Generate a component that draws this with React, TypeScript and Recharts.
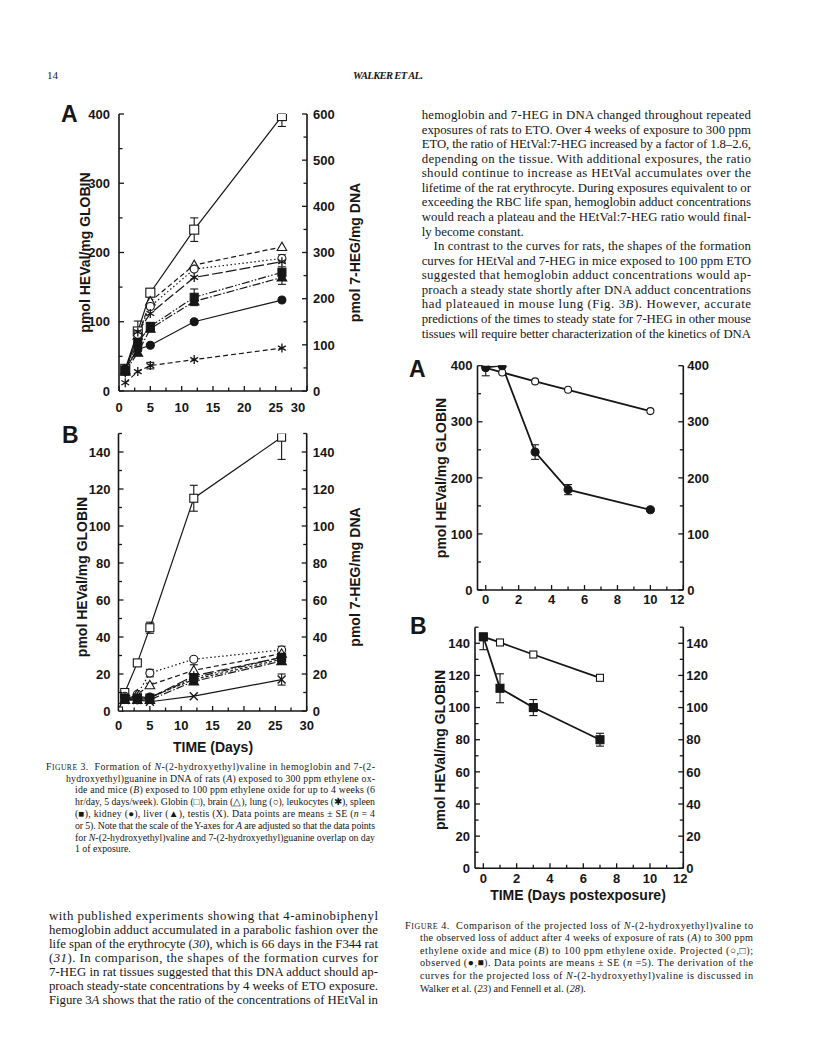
import React from 'react';
import { LineChart, Line, XAxis, YAxis, ErrorBar } from 'recharts';

const INK = '#161616';
const SANS = '"Liberation Sans", Arial, Helvetica, sans-serif';
const SERIF = '"Liberation Serif", "Times New Roman", serif';

// ---------- Figure 3A: rats, 300 ppm ETO ----------
const ratDays = [1, 3, 5, 12, 26];
const ratGlobin = [32, 86, 142, 233, 397]; // pmol HEVal/mg globin (left axis)
const ratGlobinErr = [2, 15, 6, 17, [15, 3]];
// pmol 7-HEG/mg DNA (right axis)
const ratBrain = [45, 120, 194, 273, 312];
const ratLung = [42, 123, 183, 264, 287];
const ratLungErr = [null, null, null, null, 8];
const ratLeuko = [39, 128, 168, 246, 280];
const ratSpleen = [45, 105, 140, 203, 257];
const ratSpleenErr = [null, null, 8, 18, 12];
const ratLiver = [42, 83, 135, 194, 246];
const ratLiverErr = [null, null, null, null, 15];
const ratKidney = [48, 90, 99, 150, 197];
const ratTestis = [18, 42, 55, 68, 93];
const ratTestisErr = [null, null, 7, null, null];

// ---------- Figure 3B: mice, 100 ppm ETO ----------
const mouseGlobinDays = [0, 1, 3, 5, 12, 26];
const mouseGlobin = [0, 10, 26, 45, 115, 148];
const mouseGlobinErr = [null, 1.5, 1.5, 3, 7, [12, 1]];
const mouseDays = [1, 3, 5, 12, 26];
const mouseLung = [8, 9, 20.5, 28, 33];
const mouseLungErr = [null, null, 2, 1, 2];
const mouseBrain = [6, 9, 14, 22, 31];
const mouseBrainErr = [null, null, 1, 3, 2];
const mouseLeuko = [7, 8, 7, 19, 29];
const mouseSpleen = [7, 7, 7, 18, 29];
const mouseSpleenErr = [null, null, null, null, 2];
const mouseKidney = [7, 6, 7.5, 17, 28];
const mouseLiver = [6, 6, 6, 16, 27];
const mouseTestis = [6, 6, 5, 8, 17];
const mouseTestisErr = [null, null, null, null, 3];

// ---------- Figure 4A: rats, postexposure ----------
const ratPostDays = [0, 1, 3, 5, 10];
const ratProjected = [396, 388, 372, 357, 319];
const ratObserved = [397, 400, 246, 179, 143];
const ratObservedErr = [[15, 0], [13, 0], 13, 9, 3];

// ---------- Figure 4B: mice, postexposure ----------
const mousePostDays = [0, 1, 3, 7];
const mouseProjected = [144, 140.5, 133, 118.5];
const mouseObserved = [144, 112, 100, 80];
const mouseObservedErr = [[8, 0], 9, 5, 4];

// tick sets
const X30 = [0, 2.5, 5, 7.5, 10, 12.5, 15, 17.5, 20, 22.5, 25, 27.5, 30];
const X12 = [0, 1, 2, 3, 4, 5, 6, 7, 8, 9, 10, 11, 12];
const Y400 = [0, 50, 100, 150, 200, 250, 300, 350, 400];
const Y600 = [0, 50, 100, 150, 200, 250, 300, 350, 400, 450, 500, 550, 600];
const Y150 = [0, 10, 20, 30, 40, 50, 60, 70, 80, 90, 100, 110, 120, 130, 140, 150];

// page text
const RIGHT_COL = [
  'hemoglobin and 7-HEG in DNA changed throughout repeated',
  'exposures of rats to ETO. Over 4 weeks of exposure to 300 ppm',
  'ETO, the ratio of HEtVal:7-HEG increased by a factor of 1.8–2.6,',
  'depending on the tissue. With additional exposures, the ratio',
  'should continue to increase as HEtVal accumulates over the',
  'lifetime of the rat erythrocyte. During exposures equivalent to or',
  'exceeding the RBC life span, hemoglobin adduct concentrations',
  'would reach a plateau and the HEtVal:7-HEG ratio would final-',
  'ly become constant.',
  'In contrast to the curves for rats, the shapes of the formation',
  'curves for HEtVal and 7-HEG in mice exposed to 100 ppm ETO',
  'suggested that hemoglobin adduct concentrations would ap-',
  'proach a steady state shortly after DNA adduct concentrations',
  'had plateaued in mouse lung (Fig. 3_B_). However, accurate',
  'predictions of the times to steady state for 7-HEG in other mouse',
  'tissues will require better characterization of the kinetics of DNA',
];
const LEFT_COL = [
  'with published experiments showing that 4-aminobiphenyl',
  'hemoglobin adduct accumulated in a parabolic fashion over the',
  'life span of the erythrocyte (_30_), which is 66 days in the F344 rat',
  '(_31_). In comparison, the shapes of the formation curves for',
  '7-HEG in rat tissues suggested that this DNA adduct should ap-',
  'proach steady-state concentrations by 4 weeks of ETO exposure.',
  'Figure 3_A_ shows that the ratio of the concentrations of HEtVal in',
];
const FIG3_CAPTION = [
  'FIGURE 3.  Formation of _N_-(2-hydroxyethyl)valine in hemoglobin and 7-(2-',
  'hydroxyethyl)guanine in DNA of rats (_A_) exposed to 300 ppm ethylene ox-',
  'ide and mice (_B_) exposed to 100 ppm ethylene oxide for up to 4 weeks (6',
  'hr/day, 5 days/week). Globin (□), brain (△), lung (○), leukocytes (✱), spleen',
  '(■), kidney (●), liver (▲), testis (X). Data points are means ± SE (_n_ = 4',
  'or 5). Note that the scale of the Y-axes for _A_ are adjusted so that the data points',
  'for _N_-(2-hydroxyethyl)valine and 7-(2-hydroxyethyl)guanine overlap on day',
  '1 of exposure.',
];
const FIG4_CAPTION = [
  'FIGURE 4.  Comparison of the projected loss of _N_-(2-hydroxyethyl)valine to',
  'the observed loss of adduct after 4 weeks of exposure of rats (_A_) to 300 ppm',
  'ethylene oxide and mice (_B_) to 100 ppm ethylene oxide. Projected (○,□);',
  'observed (●,■). Data points are means ± SE (_n_ =5). The derivation of the',
  'curves for the projected loss of _N_-(2-hydroxyethyl)valine is discussed in',
  'Walker et al. (_23_) and Fennell et al. (_28_).',
];

const pts = (days: number[], vals: number[], errs?: any[]) =>
  days.map((d, i) => ({ d, v: vals[i], err: errs && errs[i] != null ? errs[i] : undefined }));

const axisLine = { stroke: INK, strokeWidth: 1.6 };
const tickFont = { fontFamily: SANS, fontWeight: 700, fontSize: 13, fill: INK };

const isMajor = (v: number, step: number) => Math.abs(v / step - Math.round(v / step)) < 1e-6;

function yTick(side: 'left' | 'right', step: number, gap: number) {
  return (p: any) => {
    const v = Number(p.payload.value);
    const major = isMajor(v, step);
    const dir = side === 'left' ? 1 : -1;
    const len = major ? 5 : 3.5;
    return (
      <g>
        <line x1={p.x} x2={p.x + dir * len} y1={p.y} y2={p.y} stroke={INK} strokeWidth={1.3} />
        {major && (
          <text x={p.x - dir * gap} y={p.y} dy="0.36em" textAnchor={side === 'left' ? 'end' : 'start'} {...tickFont}>
            {v}
          </text>
        )}
      </g>
    );
  };
}

function xTick(step: number, gap: number, shift: Record<number, number> = {}) {
  return (p: any) => {
    const v = Number(p.payload.value);
    const major = isMajor(v, step);
    const len = major ? 5 : 3.5;
    return (
      <g>
        <line x1={p.x} x2={p.x} y1={p.y} y2={p.y - len} stroke={INK} strokeWidth={1.3} />
        {major && (
          <text x={p.x + (shift[v] || 0)} y={p.y + gap} dy="0.71em" textAnchor="middle" {...tickFont}>
            {v}
          </text>
        )}
      </g>
    );
  };
}

const vTitle = (text: string, x: number, y: number) => () => (
  <text x={x} y={y} transform={`rotate(-90 ${x} ${y})`} dy="0.36em" textAnchor="middle"
    fontFamily={SANS} fontWeight={700} fontSize={14} fill={INK}>{text}</text>
);
const hTitle = (text: string, x: number, y: number) => () => (
  <text x={x} y={y} dy="0.36em" textAnchor="middle" fontFamily={SANS} fontWeight={700} fontSize={14} fill={INK}>{text}</text>
);

function Mark({ cx, cy, shape, s }: any) {
  if (cx == null || cy == null) return null;
  const h = s / 2;
  const sw = 1.1;
  switch (shape) {
    case 'sq':
    case 'sqF':
      return <rect x={cx - h} y={cy - h} width={s} height={s} fill={shape === 'sqF' ? INK : '#fff'} stroke={INK} strokeWidth={sw} />;
    case 'ci':
    case 'ciF':
      return <circle cx={cx} cy={cy} r={h} fill={shape === 'ciF' ? INK : '#fff'} stroke={INK} strokeWidth={sw} />;
    case 'tri':
    case 'triF': {
      const t = h + 0.8;
      return (
        <polygon points={`${cx},${cy - t} ${cx - t},${cy + t * 0.75} ${cx + t},${cy + t * 0.75}`}
          fill={shape === 'triF' ? INK : '#fff'} stroke={INK} strokeWidth={sw} />
      );
    }
    case 'star': {
      const r = h + 0.5;
      const a = r * 0.866;
      const b = r * 0.5;
      return (
        <path d={`M${cx},${cy - r}V${cy + r}M${cx - a},${cy - b}L${cx + a},${cy + b}M${cx - a},${cy + b}L${cx + a},${cy - b}`}
          stroke={INK} strokeWidth={1.3} fill="none" />
      );
    }
    case 'x':
    default: {
      const r = h;
      return (
        <path d={`M${cx - r},${cy - r}L${cx + r},${cy + r}M${cx - r},${cy + r}L${cx + r},${cy - r}`}
          stroke={INK} strokeWidth={1.4} fill="none" />
      );
    }
  }
}

function renderSeries(list: any[], prefix: string, sw: number) {
  return list.map((s) => (
    <Line
      key={prefix + s.key}
      yAxisId={s.axis}
      data={pts(s.days, s.v, s.err)}
      dataKey="v"
      type="linear"
      stroke={INK}
      strokeWidth={sw}
      strokeDasharray={s.dash}
      dot={(p: any) => <Mark key={`${prefix}${s.key}-${p.index}`} cx={p.cx} cy={p.cy} shape={s.mark} s={s.size || 8} />}
      activeDot={false}
      isAnimationActive={false}
    >
      {s.err && <ErrorBar dataKey="err" width={4} stroke={INK} strokeWidth={1.1} direction="y" isAnimationActive={false} />}
    </Line>
  ));
}

const fig3A = [
  { key: 'globin', days: ratDays, v: ratGlobin, err: ratGlobinErr, mark: 'sq', axis: 'l', size: 9 },
  { key: 'brain', days: ratDays, v: ratBrain, dash: '5 3', mark: 'tri', axis: 'r' },
  { key: 'lung', days: ratDays, v: ratLung, err: ratLungErr, dash: '1.5 2.5', mark: 'ci', axis: 'r' },
  { key: 'leuko', days: ratDays, v: ratLeuko, dash: '11 3', mark: 'star', axis: 'r' },
  { key: 'spleen', days: ratDays, v: ratSpleen, err: ratSpleenErr, dash: '8 2 1.5 2 1.5 2', mark: 'sqF', axis: 'r' },
  { key: 'liver', days: ratDays, v: ratLiver, err: ratLiverErr, dash: '8 2 1.5 2', mark: 'triF', axis: 'r' },
  { key: 'kidney', days: ratDays, v: ratKidney, mark: 'ciF', axis: 'r' },
  { key: 'testis', days: ratDays, v: ratTestis, err: ratTestisErr, dash: '5 3', mark: 'star', axis: 'r' },
];

const fig3B = [
  { key: 'globin', days: mouseGlobinDays, v: mouseGlobin, err: mouseGlobinErr, mark: 'sq', axis: 'l' },
  { key: 'lung', days: mouseDays, v: mouseLung, err: mouseLungErr, dash: '1.5 2.5', mark: 'ci', axis: 'r' },
  { key: 'brain', days: mouseDays, v: mouseBrain, err: mouseBrainErr, dash: '5 3', mark: 'tri', axis: 'r' },
  { key: 'leuko', days: mouseDays, v: mouseLeuko, dash: '11 3', mark: 'star', axis: 'r' },
  { key: 'spleen', days: mouseDays, v: mouseSpleen, err: mouseSpleenErr, dash: '8 2 1.5 2 1.5 2', mark: 'sqF', axis: 'r' },
  { key: 'liver', days: mouseDays, v: mouseLiver, dash: '8 2 1.5 2', mark: 'triF', axis: 'r' },
  { key: 'kidney', days: mouseDays, v: mouseKidney, dash: '3 2', mark: 'ciF', axis: 'r' },
  { key: 'testis', days: mouseDays, v: mouseTestis, err: mouseTestisErr, mark: 'x', axis: 'r' },
];

const fig4A = [
  { key: 'proj', days: ratPostDays, v: ratProjected, mark: 'ci', axis: 'r', size: 7 },
  { key: 'obs', days: ratPostDays, v: ratObserved, err: ratObservedErr, mark: 'ciF', axis: 'l', size: 8 },
];
const fig4B = [
  { key: 'proj', days: mousePostDays, v: mouseProjected, mark: 'sq', axis: 'r', size: 7 },
  { key: 'obs', days: mousePostDays, v: mouseObserved, err: mouseObservedErr, mark: 'sqF', axis: 'l', size: 8 },
];

// ---------- page text ----------
function rich(s: string, size: number) {
  const out: any[] = [];
  let body = s;
  if (s.startsWith('FIGURE')) {
    out.push(<tspan key="f">F</tspan>);
    out.push(<tspan key="cap" fontSize={size * 0.78}>IGURE</tspan>);
    body = s.slice(6);
  }
  body.split('_').forEach((seg, i) =>
    out.push(i % 2 ? <tspan key={`s${i}`} fontStyle="italic">{seg}</tspan> : <tspan key={`s${i}`}>{seg}</tspan>)
  );
  return out;
}

function Block({ lines, x, right, y, lh, size, ragged = [], xs = {} }: any) {
  return (
    <g>
      {lines.map((s: string, i: number) => {
        const lx = xs[i] != null ? xs[i] : x;
        const rag = ragged.includes(i);
        return (
          <text key={i} x={lx} y={y + i * lh} fontSize={size} fontFamily={SERIF} fill={INK}
            textLength={rag ? undefined : right - lx} lengthAdjust={rag ? undefined : 'spacing'} xmlSpace="preserve">
            {rich(s, size)}
          </text>
        );
      })}
    </g>
  );
}

function PageText() {
  const letter = { fontFamily: SANS, fontWeight: 700, fontSize: 23, fill: INK };
  return (
    <svg width={816} height={1060} style={{ position: 'absolute', left: 0, top: 0 }}>
      <text x={47} y={79} fontFamily={SERIF} fontSize={11} fill={INK}>14</text>
      <text x={353} y={79} fontFamily={SERIF} fontSize={10.5} fontWeight={700} fontStyle="italic" fill={INK}
        textLength={70} lengthAdjust="spacing">WALKER ET AL.</text>

      <text x={61} y={122} {...letter}>A</text>
      <text x={62} y={443} {...letter}>B</text>
      <text x={409} y={377} {...letter}>A</text>
      <text x={410} y={634} {...letter}>B</text>

      <Block lines={RIGHT_COL} x={421.7} right={751} y={119} lh={14.57} size={12.8} ragged={[8]} xs={{ 9: 433.5 }} />
      <Block lines={LEFT_COL} x={49} right={378} y={920} lh={14} size={12.8} />
      <Block lines={FIG3_CAPTION} x={75} right={375} y={769.7} lh={11.8} size={9.8} ragged={[7]} xs={{ 0: 46, 1: 66 }} />
      <Block lines={FIG4_CAPTION} x={420} right={753} y={928.5} lh={12.65} size={10.2} ragged={[5]} xs={{ 0: 405 }} />
    </svg>
  );
}

export default function App() {
  return (
    <div style={{ position: 'absolute', left: 0, top: 0, width: 816, height: 1060, background: '#fff', overflow: 'hidden' }}>
      <PageText />

      {/* Figure 3A */}
      <div style={{ position: 'absolute', left: 40, top: 90 }}>
        <LineChart width={340} height={341} margin={{ top: 24, right: 0, bottom: 0, left: 0 }}>
          <XAxis type="number" dataKey="d" domain={[0, 30]} ticks={X30} interval={0} height={40}
            tickSize={0} tickMargin={0} tick={xTick(5, 12, { 30: -9 })} axisLine={axisLine} allowDataOverflow />
          <YAxis yAxisId="l" type="number" domain={[0, 400]} ticks={Y400} interval={0} width={79}
            tickSize={0} tickMargin={0} tick={yTick('left', 100, 9)} axisLine={axisLine}
            label={vTitle('pmol HEVal/mg GLOBIN', 44.5, 162.5)} allowDataOverflow />
          <YAxis yAxisId="r" orientation="right" type="number" domain={[0, 600]} ticks={Y600} interval={0} width={73}
            tickSize={0} tickMargin={0} tick={yTick('right', 100, 6)} axisLine={axisLine}
            label={vTitle('pmol 7-HEG/mg DNA', 315, 162.5)} allowDataOverflow />
          {renderSeries(fig3A, '3a', 1.2)}
        </LineChart>
      </div>

      {/* Figure 3B */}
      <div style={{ position: 'absolute', left: 40, top: 420 }}>
        <LineChart width={340} height={336} margin={{ top: 13.5, right: 0, bottom: 0, left: 0 }}>
          <XAxis type="number" dataKey="d" domain={[0, 30]} ticks={X30} interval={0} height={45}
            tickSize={0} tickMargin={0} tick={xTick(5, 9.5)} axisLine={axisLine}
            label={hTitle('TIME (Days)', 173, 326.7)} allowDataOverflow />
          <YAxis yAxisId="l" type="number" domain={[0, 150]} ticks={Y150} interval={0} width={78.5}
            tickSize={0} tickMargin={0} tick={yTick('left', 20, 8)} axisLine={axisLine}
            label={vTitle('pmol HEVal/mg GLOBIN', 42, 157)} allowDataOverflow />
          <YAxis yAxisId="r" orientation="right" type="number" domain={[0, 150]} ticks={Y150} interval={0} width={73.3}
            tickSize={0} tickMargin={0} tick={yTick('right', 20, 6)} axisLine={axisLine}
            label={vTitle('pmol 7-HEG/mg DNA', 315, 157)} allowDataOverflow />
          {renderSeries(fig3B, '3b', 1.2)}
        </LineChart>
      </div>

      {/* Figure 4A */}
      <div style={{ position: 'absolute', left: 400, top: 345 }}>
        <LineChart width={340} height={275} margin={{ top: 20.7, right: 0, bottom: 0, left: 0 }}>
          <XAxis type="number" dataKey="d" domain={[-0.5, 12]} ticks={X12} interval={0} height={30}
            tickSize={0} tickMargin={0} tick={xTick(2, 4.5, { 12: -6 })} axisLine={axisLine} allowDataOverflow />
          <YAxis yAxisId="l" type="number" domain={[0, 400]} ticks={Y400} interval={0} width={77.5}
            tickSize={0} tickMargin={0} tick={yTick('left', 100, 5)} axisLine={axisLine}
            label={vTitle('pmol HEVal/mg GLOBIN', 41, 133)} allowDataOverflow />
          <YAxis yAxisId="r" orientation="right" type="number" domain={[0, 400]} ticks={Y400} interval={0} width={56.7}
            tickSize={0} tickMargin={0} tick={yTick('right', 100, 4)} axisLine={axisLine} allowDataOverflow />
          {renderSeries(fig4A, '4a', 1.8)}
        </LineChart>
      </div>

      {/* Figure 4B */}
      <div style={{ position: 'absolute', left: 400, top: 605 }}>
        <LineChart width={340} height={308.3} margin={{ top: 22.2, right: 0, bottom: 0, left: 0 }}>
          <XAxis type="number" dataKey="d" domain={[-0.5, 12]} ticks={X12} interval={0} height={45}
            tickSize={0} tickMargin={0} tick={xTick(2, 5, { 12: -3 })} axisLine={axisLine}
            label={hTitle('TIME (Days postexposure)', 178, 290)} allowDataOverflow />
          <YAxis yAxisId="l" type="number" domain={[0, 150]} ticks={Y150} interval={0} width={75}
            tickSize={0} tickMargin={0} tick={yTick('left', 20, 5)} axisLine={axisLine}
            label={vTitle('pmol HEVal/mg GLOBIN', 40, 145)} allowDataOverflow />
          <YAxis yAxisId="r" orientation="right" type="number" domain={[0, 150]} ticks={Y150} interval={0} width={56.7}
            tickSize={0} tickMargin={0} tick={yTick('right', 20, 3)} axisLine={axisLine} allowDataOverflow />
          {renderSeries(fig4B, '4b', 1.8)}
        </LineChart>
      </div>
    </div>
  );
}
